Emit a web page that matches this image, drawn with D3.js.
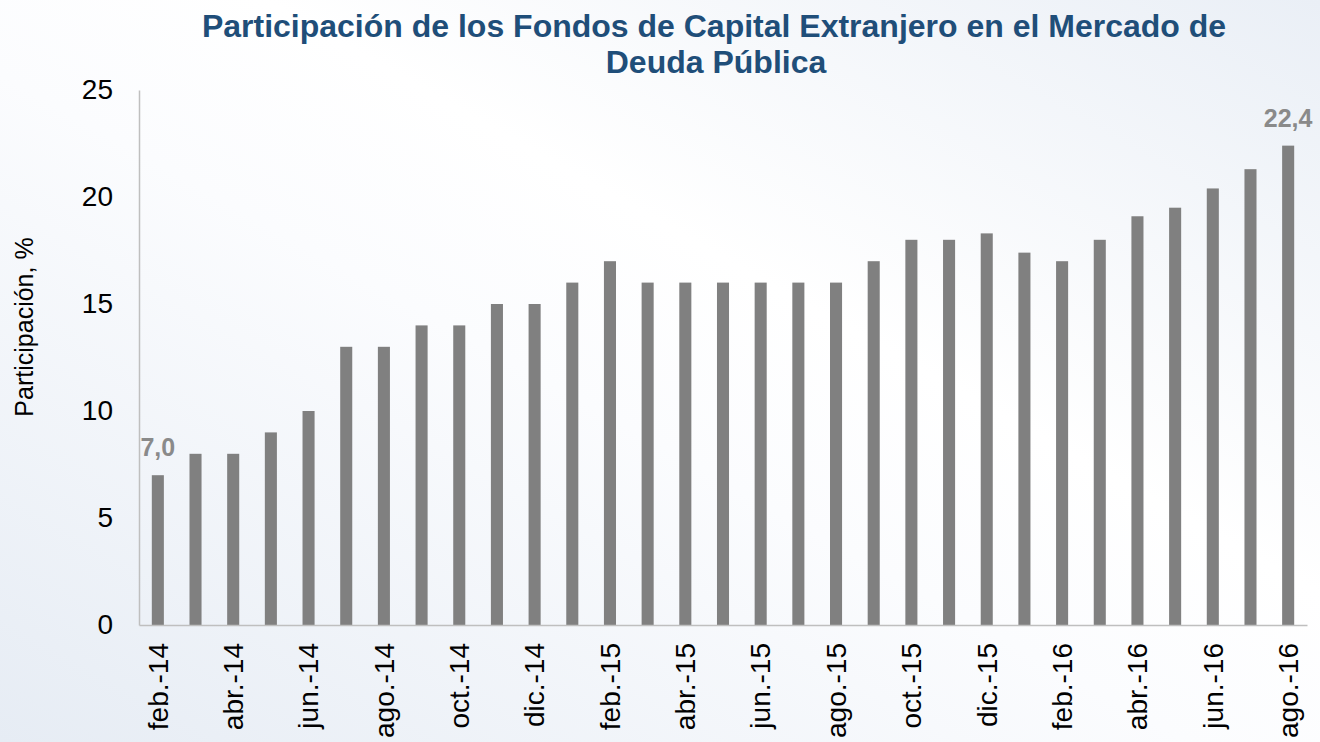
<!DOCTYPE html>
<html>
<head>
<meta charset="utf-8">
<script src="https://cdn.jsdelivr.net/npm/d3@7"></script>
<style>
    body { margin: 0; }
    svg text { font-family: "Liberation Sans", Arial, sans-serif; }
</style>
</head>
<body>
<div id="chart"></div>
<script>
    const months = ["feb.-14", "mar.-14", "abr.-14", "may.-14", "jun.-14", "jul.-14", "ago.-14", "sep.-14", "oct.-14", "nov.-14", "dic.-14",
        "ene.-15", "feb.-15", "mar.-15", "abr.-15", "may.-15", "jun.-15", "jul.-15", "ago.-15", "sep.-15", "oct.-15", "nov.-15", "dic.-15",
        "ene.-16", "feb.-16", "mar.-16", "abr.-16", "may.-16", "jun.-16", "jul.-16", "ago.-16"];
    const values = [7.0, 8, 8, 9, 10, 13, 13, 14, 14, 15, 15,
        16, 17, 16, 16, 16, 16, 16, 16, 17, 18, 18, 18.3,
        17.4, 17.0, 18.0, 19.1, 19.5, 20.4, 21.3, 22.4];
    const yTicks = [0, 5, 10, 15, 20, 25];
    const shownLabels = months.filter((m, i) => i % 2 === 0);
    const labelled = ["feb.-14", "ago.-16"];

    const width = 1320, height = 742;
    const margin = {top: 90, right: 13, bottom: 117, left: 139};

    const svg = d3.select("#chart").append("svg")
        .attr("width", width)
        .attr("height", height);

    const defs = svg.append("defs");
    const grad = defs.append("linearGradient")
        .attr("id", "bg")
        .attr("x1", "0%").attr("y1", "100%")
        .attr("x2", "100%").attr("y2", "0%");
    grad.append("stop").attr("offset", "0%").attr("stop-color", "#e6ecf4");
    grad.append("stop").attr("offset", "45%").attr("stop-color", "#fbfcfe");
    grad.append("stop").attr("offset", "60%").attr("stop-color", "#ffffff");
    grad.append("stop").attr("offset", "100%").attr("stop-color", "#eaeff6");

    svg.append("rect")
        .attr("width", width).attr("height", height)
        .attr("fill", "url(#bg)");

    const x = d3.scaleBand()
        .domain(months)
        .range([margin.left, width - margin.right])
        .paddingInner(0.68)
        .paddingOuter(0.34);

    const y = d3.scaleLinear()
        .domain([0, 25])
        .range([height - margin.bottom, margin.top]);

    // title
    const title = svg.append("text")
        .attr("text-anchor", "middle")
        .attr("fill", "#1f4e79")
        .attr("font-weight", "bold")
        .attr("font-size", 32);
    title.append("tspan").attr("x", 714).attr("y", 37)
        .text("Participación de los Fondos de Capital Extranjero en el Mercado de");
    title.append("tspan").attr("x", 716).attr("y", 73)
        .text("Deuda Pública");

    // bars
    svg.append("g")
        .selectAll("rect")
        .data(values)
        .join("rect")
        .attr("x", (d, i) => x(months[i]))
        .attr("y", d => y(d))
        .attr("width", x.bandwidth())
        .attr("height", d => y(0) - y(d))
        .attr("fill", "#808080");

    // y axis
    const yAxis = svg.append("g")
        .attr("transform", `translate(${margin.left},0)`)
        .call(d3.axisLeft(y).tickValues(yTicks).tickSize(0).tickPadding(26));
    yAxis.select(".domain").attr("stroke", "#bfbfbf").attr("stroke-width", 1.5);
    yAxis.selectAll("text")
        .attr("font-size", 28)
        .attr("fill", "#000")
        .attr("font-family", "Liberation Sans, Arial, sans-serif");

    // x axis
    const xAxis = svg.append("g")
        .attr("transform", `translate(0,${y(0)})`)
        .call(d3.axisBottom(x).tickValues(shownLabels).tickSize(0));
    xAxis.select(".domain").attr("stroke", "#bfbfbf").attr("stroke-width", 1.5);
    xAxis.selectAll("text")
        .attr("font-size", 28)
        .attr("fill", "#000")
        .attr("font-family", "Liberation Sans, Arial, sans-serif")
        .attr("text-anchor", "end")
        .attr("transform", "rotate(-90)")
        .attr("x", -18)
        .attr("y", 0)
        .attr("dy", "0.35em");

    // y label
    svg.append("text")
        .attr("transform", `translate(33,327) rotate(-90)`)
        .attr("text-anchor", "middle")
        .attr("font-size", 25)
        .attr("fill", "#000")
        .text("Participación, %");

    // data labels
    svg.append("g")
        .selectAll("text")
        .data(values.map((v, i) => ({v: v, m: months[i]})).filter(d => labelled.includes(d.m)))
        .join("text")
        .attr("x", d => x(d.m) + x.bandwidth() / 2)
        .attr("y", d => y(d.v) - 19)
        .attr("text-anchor", "middle")
        .attr("font-size", 25)
        .attr("font-weight", "bold")
        .attr("fill", "#8a8a8a")
        .text(d => d3.format(".1f")(d.v).replace(".", ","));
</script>
</body>
</html>
